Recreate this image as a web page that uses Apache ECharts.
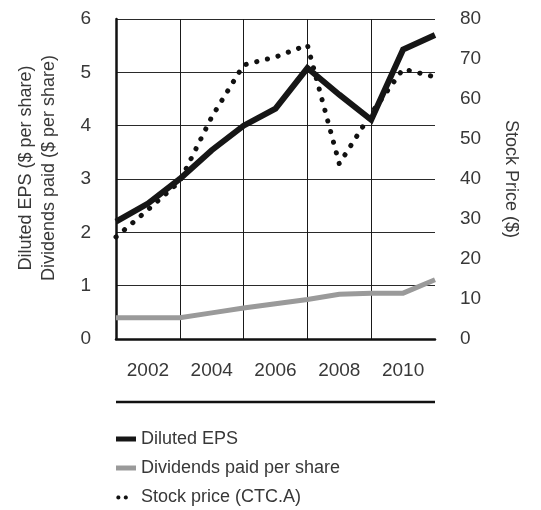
<!DOCTYPE html>
<html>
<head>
<meta charset="utf-8">
<title>Diluted EPS, dividends and stock price</title>
<script src="https://cdn.jsdelivr.net/npm/echarts@6/dist/echarts.min.js"></script>
<style>
  html, body { margin: 0; padding: 0; background: #ffffff; }
  #chart { width: 541px; height: 510px; }
</style>
</head>
<body>
<div id="chart"></div>
<script>
// Fiscal years on the horizontal axis
var years = ['2001', '2002', '2003', '2004', '2005', '2006', '2007', '2008', '2009', '2010', '2011'];

// Diluted earnings per share ($)
var dilutedEps = [2.20, 2.54, 3.00, 3.54, 4.00, 4.32, 5.08, 4.58, 4.11, 5.43, 5.70];

// Dividends paid per share ($)
var dividends = [0.40, 0.40, 0.40, 0.49, 0.58, 0.66, 0.74, 0.84, 0.86, 0.86, 1.11];

// Stock price, CTC.A ($)
var stockPrice = [25.5, 32.3, 39.4, 55.5, 68.5, 70.5, 73.5, 43.8, 56.4, 67.5, 65.5];

// Axis tick settings
var leftMin = 0, leftMax = 6, leftStep = 1;
var rightMin = 0, rightMax = 80, rightStep = 10;

var FONT = '"Liberation Sans", Arial, Helvetica, sans-serif';
var TEXT = '#383838';

// Builds a legend marker path made of small round dots inside a w x h box
function dotsIcon(w, h, centers, r) {
  var d = 'M0,0 M' + w + ',' + h;
  centers.forEach(function (c) {
    var n = 16;
    for (var k = 0; k <= n; k++) {
      var a = (k / n) * Math.PI * 2;
      var px = (c[0] + r * Math.cos(a)).toFixed(2);
      var py = (c[1] + r * Math.sin(a)).toFixed(2);
      d += (k === 0 ? ' M' : ' L') + px + ',' + py;
    }
    d += ' Z';
  });
  return 'path://' + d;
}
var DOTS_ICON = dotsIcon(20, 5, [[2.2, 3], [9.8, 3]], 2.1);

var chart = echarts.init(document.getElementById('chart'), null, { renderer: 'canvas' });

chart.setOption({
  animation: false,
  backgroundColor: '#ffffff',
  textStyle: { fontFamily: FONT, color: TEXT },
  grid: { left: 116, right: 106, top: 19, bottom: 171, containLabel: false },
  xAxis: {
    type: 'category',
    data: years,
    boundaryGap: false,
    axisLine: { show: true, onZero: false, lineStyle: { color: '#111111', width: 2.5 } },
    axisTick: { show: false },
    axisLabel: {
      interval: function (i) { return i % 2 === 1; },
      margin: 22,
      fontSize: 19,
      fontFamily: FONT,
      color: TEXT
    },
    splitLine: {
      show: true,
      interval: function (i) { return i % 2 === 0 && i > 0 && i < years.length - 1; },
      lineStyle: { color: '#1a1a1a', width: 1 }
    }
  },
  yAxis: [
    {
      type: 'value',
      position: 'left',
      min: leftMin, max: leftMax, interval: leftStep,
      name: 'Diluted EPS ($ per share)\nDividends paid ($ per share)',
      nameLocation: 'middle',
      nameRotate: 90,
      nameGap: 55,
      nameTextStyle: { fontSize: 18, fontFamily: FONT, color: TEXT, lineHeight: 23, padding: [0, 0, 0, 22] },
      axisLine: { show: true, lineStyle: { color: '#111111', width: 2.5 } },
      axisTick: { show: false },
      axisLabel: { margin: 25, fontSize: 19, fontFamily: FONT, color: TEXT },
      splitLine: { show: true, lineStyle: { color: '#2a2a2a', width: 1 } }
    },
    {
      type: 'value',
      position: 'right',
      min: rightMin, max: rightMax, interval: rightStep,
      name: 'Stock Price ($)',
      nameLocation: 'middle',
      nameRotate: -90,
      nameGap: 66,
      nameTextStyle: { fontSize: 18, fontFamily: FONT, color: TEXT, lineHeight: 20 },
      axisLine: { show: false },
      axisTick: { show: false },
      axisLabel: { margin: 25, fontSize: 19, fontFamily: FONT, color: TEXT },
      splitLine: { show: false }
    }
  ],
  legend: {
    orient: 'vertical',
    left: 116,
    top: 429,
    padding: 0,
    height: 81,
    itemWidth: 20,
    itemHeight: 5,
    itemGap: 9,
    selectedMode: false,
    itemStyle: { borderWidth: 0 },
    textStyle: { fontSize: 18, fontFamily: FONT, color: TEXT, lineHeight: 20 },
    data: [
      { name: 'Diluted EPS', icon: 'rect' },
      { name: 'Dividends paid per share', icon: 'rect' },
      { name: 'Stock price (CTC.A)', icon: DOTS_ICON, itemStyle: { color: '#111111', borderWidth: 0 } }
    ]
  },
  graphic: [
    {
      type: 'line',
      silent: true,
      shape: { x1: 116, y1: 402, x2: 435, y2: 402 },
      style: { stroke: '#111111', lineWidth: 2.5 }
    }
  ],
  series: [
    {
      name: 'Stock price (CTC.A)',
      type: 'line',
      yAxisIndex: 1,
      data: stockPrice,
      showSymbol: false,
      symbol: 'none',
      color: '#111111',
      lineStyle: { color: '#111111', width: 5, type: [0.2, 10.8], cap: 'round', join: 'round' },
      z: 2
    },
    {
      name: 'Dividends paid per share',
      type: 'line',
      yAxisIndex: 0,
      data: dividends,
      showSymbol: false,
      symbol: 'none',
      color: '#9a9a9a',
      lineStyle: { color: '#9a9a9a', width: 5, join: 'miter' },
      z: 3
    },
    {
      name: 'Diluted EPS',
      type: 'line',
      yAxisIndex: 0,
      data: dilutedEps,
      showSymbol: false,
      symbol: 'none',
      color: '#161616',
      lineStyle: { color: '#161616', width: 6, join: 'miter' },
      z: 4
    }
  ]
});
</script>
</body>
</html>
